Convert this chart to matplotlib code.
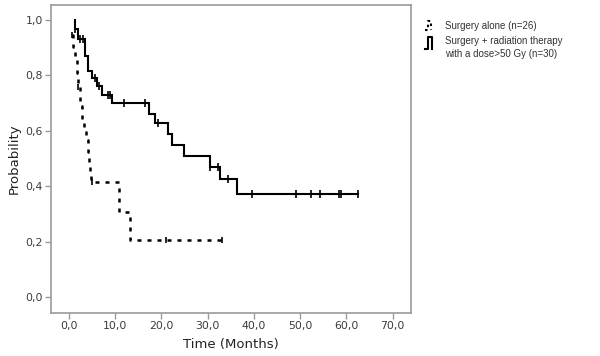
"""Kaplan-Meier curves: surgery alone vs. surgery + radiation therapy."""

import matplotlib

matplotlib.use("Agg")

import matplotlib.pyplot as plt
from matplotlib.lines import Line2D

# Surgery + radiation therapy with a dose>50 Gy (n=30)
rt_start = 1.2
rt_event_times = [1.3, 2.0, 3.4, 4.0, 5.0, 6.0, 7.2, 9.3, 17.4, 18.6,
                  21.5, 22.3, 24.8, 30.5, 32.7, 36.4]
rt_event_surv = [0.967, 0.93, 0.87, 0.815, 0.79, 0.76, 0.73, 0.70, 0.66,
                 0.627, 0.588, 0.549, 0.509, 0.47, 0.425, 0.37]
rt_censor_times = [1.3, 2.4, 3.1, 5.6, 6.4, 8.5, 8.9, 11.9, 16.4, 19.3,
                   30.6, 32.2, 34.3, 39.5, 49.1, 52.3, 54.3, 58.5, 58.9, 62.6]
rt_end = 62.6

# Surgery alone (n=26)
sa_start = 0.6
sa_start_surv = 0.946
sa_event_times = [0.9, 1.3, 1.7, 1.9, 2.4, 2.9, 3.3, 3.7, 4.0, 4.3, 4.5,
                  4.7, 10.9, 13.2]
sa_event_surv = [0.904, 0.856, 0.81, 0.757, 0.69, 0.64, 0.60, 0.565,
                 0.525, 0.484, 0.452, 0.416, 0.308, 0.206]
sa_censor_times = [0.6, 2.0, 5.0, 21.0, 33.2]
sa_end = 33.2

x_ticks = [0, 10, 20, 30, 40, 50, 60, 70]
y_ticks = [0.0, 0.2, 0.4, 0.6, 0.8, 1.0]


def step_path(start, start_surv, times, surv, end):
    xs, ys = [start], [start_surv]
    level = start_surv
    for t, s in zip(times, surv):
        xs += [t, t]
        ys += [level, s]
        level = s
    xs.append(end)
    ys.append(level)
    return xs, ys


def surv_at(t, start_surv, times, surv):
    level = start_surv
    for et, s in zip(times, surv):
        if et <= t:
            level = s
    return level


fig = plt.figure(figsize=(6.0, 3.56), dpi=100)
ax = fig.add_axes([0.085, 0.1216, 0.6, 0.8644])

frame_grey = "#9a9a9a"
text_grey = "#3a3a3a"

# solid curve
xs, ys = step_path(rt_start, 1.0, rt_event_times, rt_event_surv, rt_end)
ax.plot(xs, ys, color="black", linewidth=1.5, solid_joinstyle="miter")
ax.plot(rt_censor_times,
        [surv_at(t, 1.0, rt_event_times, rt_event_surv) for t in rt_censor_times],
        linestyle="none", marker="|", markersize=6, markeredgewidth=1.2,
        color="black")

# dashed curve
xs, ys = step_path(sa_start, sa_start_surv, sa_event_times, sa_event_surv, sa_end)
ax.plot(xs, ys, color="black", linewidth=1.8, linestyle=(0, (1.6, 2.4)))
ax.plot(sa_censor_times,
        [surv_at(t, sa_start_surv, sa_event_times, sa_event_surv)
         for t in sa_censor_times],
        linestyle="none", marker="|", markersize=4, markeredgewidth=1.2,
        color="black")

ax.set_xlim(-3.9, 74.0)
ax.set_ylim(-0.057, 1.054)
ax.set_xticks(x_ticks)
ax.set_xticklabels([f"{v:.1f}".replace(".", ",") for v in x_ticks])
ax.set_yticks(y_ticks)
ax.set_yticklabels([f"{v:.1f}".replace(".", ",") for v in y_ticks])
ax.tick_params(direction="out", length=4, width=1, color=frame_grey,
               labelsize=7.8, labelcolor=text_grey, pad=2)
for spine in ax.spines.values():
    spine.set_color(frame_grey)
    spine.set_linewidth(1.2)

ax.set_xlabel("Time (Months)", fontsize=9.5, color="#222222", labelpad=5)
ax.set_ylabel("Probability", fontsize=9.5, color="#222222", labelpad=3)

# legend drawn by hand to mimic the SPSS style
fig.add_artist(Line2D([0.709, 0.713, 0.713, 0.719, 0.719],
                      [0.917, 0.917, 0.94, 0.94, 0.915],
                      color="black", linewidth=1.5, linestyle=(0, (1.2, 1.6))))
fig.add_artist(Line2D([0.709, 0.713, 0.713, 0.720, 0.720],
                      [0.862, 0.862, 0.896, 0.896, 0.862],
                      color="black", linewidth=1.5))
legend_font = {"family": ["Liberation Sans", "DejaVu Sans"], "size": 7,
               "color": "#333333"}
fig.text(0.742, 0.928, "Surgery alone (n=26)", va="center", **legend_font)
fig.text(0.742, 0.884, "Surgery + radiation therapy", va="center", **legend_font)
fig.text(0.742, 0.848, "with a dose>50 Gy (n=30)", va="center", **legend_font)

fig.savefig("out.png", dpi=100, facecolor="white")
